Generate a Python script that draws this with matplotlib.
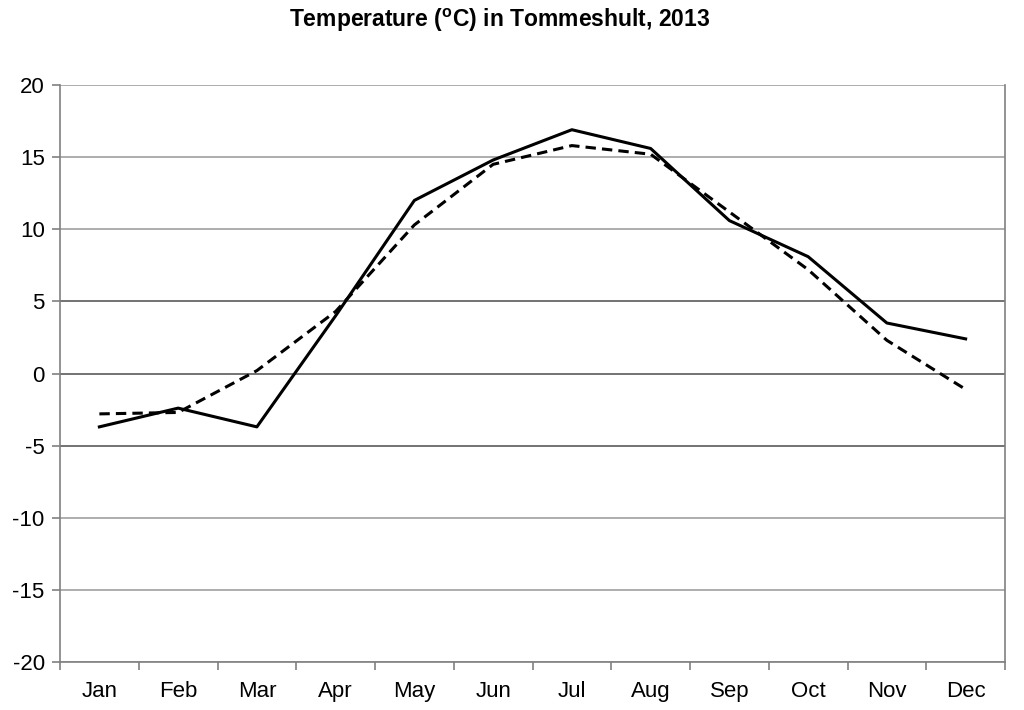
import matplotlib.pyplot as plt
import numpy as np

plt.rcParams['font.family'] = ['Liberation Sans', 'DejaVu Sans']
plt.rcParams['mathtext.fontset'] = 'custom'
plt.rcParams['mathtext.bf'] = 'Liberation Sans:bold'
plt.rcParams['mathtext.rm'] = 'Liberation Sans'
plt.rcParams['axes.unicode_minus'] = False

months = ['Jan', 'Feb', 'Mar', 'Apr', 'May', 'Jun',
          'Jul', 'Aug', 'Sep', 'Oct', 'Nov', 'Dec']
temp_2013 = [-3.7, -2.4, -3.7, 4.0, 12.0, 14.8, 16.9, 15.6, 10.6, 8.1, 3.5, 2.4]
temp_normal = [-2.8, -2.7, 0.2, 4.3, 10.3, 14.5, 15.8, 15.2, 11.2, 7.2, 2.3, -1.1]
y_ticks = [-20, -15, -10, -5, 0, 5, 10, 15, 20]

fig = plt.figure(figsize=(10.24, 7.10), dpi=100)
ax = fig.add_axes([60 / 1024, 48 / 710, 945 / 1024, 577 / 710])

x = np.arange(len(months))

# gridlines, the ones near zero are darker
for v in y_ticks:
    c = '#5a5a5a' if v in (-5, 0, 5) else '#a0a0a0'
    ax.axhline(v, color=c, lw=1.2, zorder=1)

ax.plot(x, temp_2013, color='black', lw=2.2, zorder=3)
ax.plot(x, temp_normal, color='black', lw=2.2, ls=(0, (3.4, 2.0)), zorder=3)

ax.set_xlim(-0.5, len(months) - 0.5)
ax.set_ylim(-20, 20)
ax.set_yticks(y_ticks)
ax.set_xticks(x)
ax.set_xticklabels(months)
ax.set_xticks(np.arange(len(months) + 1) - 0.5, minor=True)

ax.tick_params(axis='x', which='major', length=0, pad=14, labelsize=16)
ax.tick_params(axis='x', which='minor', length=6, width=1.2, color='#808080', direction='out')
ax.tick_params(axis='y', length=6, width=1.2, color='#808080', direction='out', pad=5, labelsize=16)

for side in ['left', 'right', 'bottom']:
    ax.spines[side].set_color('#808080')
    ax.spines[side].set_linewidth(1.2)
ax.spines['top'].set_visible(False)

fig.suptitle(r'Temperature ($^{\mathbf{o}}$C) in Tommeshult, 2013',
             fontsize=16.5, fontweight='bold', x=0.488, y=0.99)

fig.savefig('out.png', dpi=100)
